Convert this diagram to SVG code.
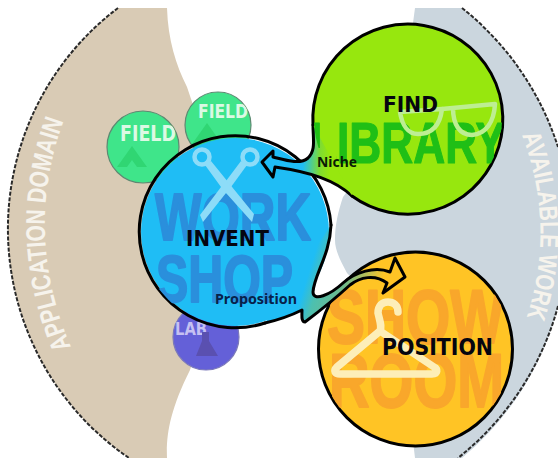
<svg xmlns="http://www.w3.org/2000/svg" width="558" height="458" viewBox="0 0 558 458">
<style>
.bubble{stroke:#000;stroke-width:3;stroke-linejoin:round;stroke-linecap:round}
.outline{fill:none;stroke:#000;stroke-width:3;stroke-linejoin:round;stroke-linecap:round}
.edge{fill:none;stroke:#2a2a2a;stroke-width:2;stroke-dasharray:4 1.6}
.wm{font-family:"Liberation Sans",Arial,sans-serif;font-weight:700;text-anchor:start;stroke-width:2;stroke-linejoin:round}
.lbl{font-family:"DejaVu Sans",sans-serif;font-weight:700;fill:#050510}
.small{font-family:"Noto Sans","DejaVu Sans",sans-serif;font-weight:700;font-size:15px}
.dom{font-family:"Liberation Sans",Arial,sans-serif;font-weight:700;font-size:27px;fill:#f6f3ec}
.fld{font-family:"DejaVu Sans",sans-serif;font-weight:700;fill:#dcf9e4}
.sm{fill:#3fe58a;stroke:#5d8a72;stroke-width:1.2}
</style>
<defs>
<linearGradient id="gFind" gradientUnits="userSpaceOnUse" x1="262" y1="162" x2="330" y2="165">
<stop offset="0" stop-color="#1fbdf5"/><stop offset=".6" stop-color="#1fbdf5"/><stop offset=".85" stop-color="#7fdc30"/><stop offset="1" stop-color="#97e70e"/>
</linearGradient>
<linearGradient id="gWork" gradientUnits="userSpaceOnUse" x1="300" y1="260" x2="395" y2="290">
<stop offset="0" stop-color="#1fbdf5"/><stop offset=".12" stop-color="#1fbdf5"/><stop offset=".25" stop-color="#4cc0b0"/><stop offset=".5" stop-color="#6fb98a"/><stop offset=".85" stop-color="#ffc425"/>
</linearGradient>
<clipPath id="cLib"><path d="M313 100H520V185H336V148H313Z"/></clipPath>
<clipPath id="cFind"><circle cx="408" cy="119" r="94"/></clipPath>
<clipPath id="cPos"><circle cx="415.5" cy="349" r="96"/></clipPath>
<clipPath id="cWork"><circle cx="235" cy="232" r="95"/></clipPath>
<clipPath id="cF1"><circle cx="143" cy="147" r="36"/></clipPath>
<clipPath id="cF2"><circle cx="218" cy="125" r="33"/></clipPath>
<path id="pApp" d="M71 347Q22 232 65 117"/>
<path id="pAvail" d="M522 135Q556 226 527 316"/>
</defs>
<rect width="558" height="458" fill="#fff"/>
<g id="application-domain">
<path d="M118 8A277 277 0 0 0 129 458H167C166 435 170 410 190 370L235 230L187 87C176 65 168 40 167 8Z" fill="#d9cbb5"/>
<path class="edge" d="M118 8A277 277 0 0 0 129 458"/>
<text class="dom"><textPath href="#pApp" textLength="232" lengthAdjust="spacingAndGlyphs">APPLICATION DOMAIN</textPath></text>
</g>
<g id="available-work">
<path d="M415 8H462A290 290 0 0 1 558 147V306A290 290 0 0 1 462 458H415L400 330L347 273C340 260 335 250 335 240C335 225 338 212 343 197L400 120Z" fill="#cbd6de"/>
<path class="edge" d="M462 8A290 290 0 0 1 558 147M558 306A290 290 0 0 1 458 458"/>
<text class="dom" style="font-size:26px"><textPath href="#pAvail" textLength="186" lengthAdjust="spacingAndGlyphs">AVAILABLE WORK</textPath></text>
</g>
<g id="field-1">
<circle class="sm" cx="143" cy="147" r="36"/>
<path d="M132 146L147 167H137L132 160L127 167H117Z" fill="#30d673"/>
<text class="fld" x="120" y="141" font-size="22" textLength="56" lengthAdjust="spacingAndGlyphs" clip-path="url(#cF1)">FIELD</text>
</g>
<g id="field-2">
<circle class="sm" cx="218" cy="125" r="33"/>
<path d="M207 123L224 147H190Z" fill="#30d673"/>
<text class="fld" x="198" y="118" font-size="19" textLength="50" lengthAdjust="spacingAndGlyphs" clip-path="url(#cF2)">FIELD</text>
</g>
<g id="lab">
<circle cx="206" cy="337" r="33" fill="#6460d8" stroke="#7b79b9" stroke-width="1.2"/>
<text class="fld" x="175" y="335" font-size="17" textLength="32" lengthAdjust="spacingAndGlyphs" style="fill:#c6c1f2">LAB</text>
<path d="M202 332H209V341L218 356H196L202 341Z" fill="#5a50b0"/>
</g>
<g id="position">
<circle cx="415.5" cy="349" r="97" fill="#ffc425" class="bubble"/>
<g clip-path="url(#cPos)" fill="#f9a72b" stroke="#f9a72b">
<text class="wm" x="327" y="343" font-size="76" textLength="177" lengthAdjust="spacingAndGlyphs">SHOW</text>
<text class="wm" x="329" y="407" font-size="76" textLength="175" lengthAdjust="spacingAndGlyphs">ROOM</text>
</g>
<path d="M398 312C398 305 393 302 388 302C382 302 378 306 378 313C380 322 382 326 380 331L337 367C333 371 335 374 340 374H432C438 374 438 369 434 367L380 331" fill="none" stroke="#fdeeb8" stroke-width="7.5" stroke-linecap="round" stroke-linejoin="round"/>
<text class="lbl" x="382" y="355" font-size="23" textLength="111" lengthAdjust="spacingAndGlyphs">POSITION</text>
</g>
<g id="workshop">
<circle cx="235" cy="232" r="94" fill="#1fbdf5"/>
<path d="M265 323A96 96 0 1 1 331 225" class="outline"/>
<g clip-path="url(#cWork)" fill="#2a8fdc" stroke="#2a8fdc">
<text class="wm" x="155" y="240" font-size="67" textLength="156" lengthAdjust="spacingAndGlyphs">WORK</text>
<text class="wm" x="156" y="302" font-size="66" textLength="137" lengthAdjust="spacingAndGlyphs">SHOP</text>
</g>
<g fill="none" stroke="#8ddcf8" stroke-width="4.5">
<circle cx="202" cy="157" r="7.5"/>
<circle cx="250" cy="157" r="7.5"/>
</g>
<path d="M205 165L211 161L254 214L252 222L226 193L203 222L200 215L221 187Z" fill="#8ddcf8"/>
<path d="M247 165L241 161L226 181L231 187Z" fill="#8ddcf8"/>
<text class="lbl" x="186" y="246" font-size="21" textLength="83" lengthAdjust="spacingAndGlyphs">INVENT</text>
</g>
<g id="connectors">
<path d="M331 225C330 255 314 275 313 292C313 302 330 295 343 283C355 272 375 266 390 272L395 258L405 277L383 293L387 283C375 274 360 277 350 285C338 296 325 307 305 322C301 322 302 315 302 310C290 316 278 320 265 323Z" fill="url(#gWork)"/>
<path class="outline" d="M331 225C330 255 314 275 313 292C313 302 330 295 343 283C355 272 375 266 390 272L395 258L405 277L383 293L387 283C375 274 360 277 350 285C338 296 325 307 305 322C301 322 302 315 302 310C290 316 278 320 265 323"/>
<path d="M360 200C335 180 310 172 275 167L273 177L262 162L273 151L273 157C285 160 300 165 308 158C316 150 313 140 313 120L370 140Z" fill="url(#gFind)"/>
<path class="outline" d="M352 196C335 180 310 172 275 167L273 177L262 162L273 151L273 157C285 160 300 165 308 158C316 150 313 140 313 125"/>
</g>
<g id="find">
<path d="M313 125A95 95 0 1 1 352 196" fill="#97e70e"/>
<path d="M313 125A95 95 0 1 1 352 196" class="outline"/>
<g clip-path="url(#cLib)"><text class="wm" x="310" y="163" font-size="57" textLength="195" lengthAdjust="spacingAndGlyphs" fill="#1fbf16" stroke="#1fbf16" style="stroke-width:1.2" clip-path="url(#cFind)">LIBRARY</text></g>
<g fill="none" stroke="#bdee92" stroke-width="4.5" stroke-linejoin="round">
<path d="M400 112L442 109C440 125 432 134 418 134C408 134 402 125 400 112Z"/>
<path d="M442 109L495 104C494 122 486 134 472 135C460 135 453 125 453 108"/>
</g>
<text class="lbl" x="383" y="112" font-size="22" textLength="55" lengthAdjust="spacingAndGlyphs">FIND</text>
</g>
<g id="connector-labels">
<text class="small" x="317" y="167" fill="#0a1a05" textLength="40" lengthAdjust="spacingAndGlyphs">Niche</text>
<text class="small" x="215" y="304" fill="#07224a" textLength="82" lengthAdjust="spacingAndGlyphs">Proposition</text>
</g>
</svg>
